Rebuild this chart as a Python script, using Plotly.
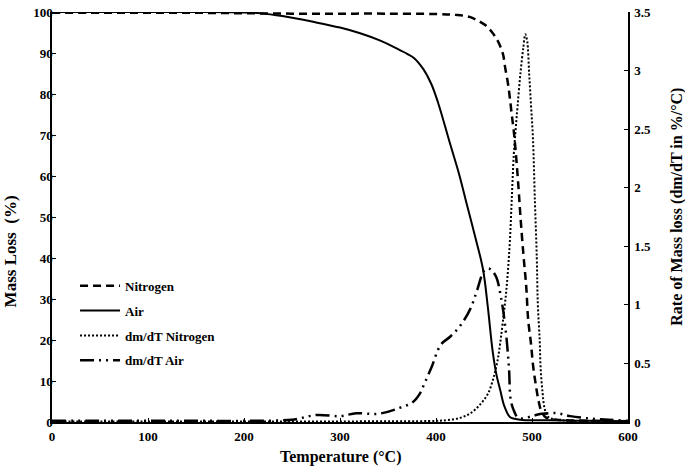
import plotly.graph_objects as go

# ---- Data ----
temp_n2 = [0, 50, 100, 150, 200, 250, 300, 350, 400, 420, 435, 446, 452, 458, 463, 467,
           470, 472, 475, 477, 479, 481, 483, 486, 488, 491, 494, 496, 499, 501, 504,
           507, 510, 515, 530, 560, 600]
mass_n2 = [99.8, 99.8, 99.8, 99.8, 99.7, 99.6, 99.6, 99.6, 99.5, 99.3, 98.8, 97.6, 96.7,
           95.2, 93.5, 91.6, 89.5, 86.5, 82.5, 78.9, 74.8, 71.0, 66.0, 57.0, 50.0, 41.0,
           33.0, 25.0, 19.0, 14.0, 9.0, 5.0, 2.5, 1.0, 0.5, 0.3, 0.2]

temp_air = [0, 50, 100, 150, 200, 217, 240, 272, 300, 321, 342, 360, 370, 377, 387, 395,
            402, 415, 424, 432, 441, 449, 454, 459, 463, 467, 471, 477, 482, 490, 520,
            560, 600]
mass_air = [100, 100, 100, 100, 99.9, 99.7, 99.0, 97.6, 96.2, 94.8, 93.0, 91.0, 89.8,
            88.8, 86.0, 82.5, 78.0, 67.6, 60.5, 53.2, 45.0, 37.2, 28.0, 17.3, 11.5, 7.7,
            4.0, 1.2, 0.8, 0.5, 0.4, 0.3, 0.2]

temp_dn2 = [0, 100, 200, 300, 400, 412, 425, 436, 446, 454, 460, 464, 467, 470, 473, 475,
            477, 479, 481, 483, 485, 488, 491, 493, 495, 497, 499, 501, 503, 505, 506,
            508, 509, 511, 513, 516, 520, 540, 600]
rate_n2 = [0.005, 0.005, 0.005, 0.005, 0.01, 0.017, 0.035, 0.075, 0.15, 0.24, 0.38, 0.52,
           0.68, 0.88, 1.1, 1.3, 1.55, 1.92, 2.28, 2.5, 2.7, 2.98, 3.2, 3.31, 3.25, 2.98,
           2.7, 2.42, 1.89, 1.4, 1.02, 0.7, 0.46, 0.25, 0.12, 0.05, 0.03, 0.01, 0.005]

temp_dair = [0, 50, 100, 150, 200, 250, 276, 300, 317, 340, 362, 376, 383, 388, 395, 405,
             415, 426, 436, 443, 450, 455, 462, 468, 473, 476, 478, 482, 485, 490, 500,
             510, 526, 540, 560, 580, 600]
rate_air = [0.01, 0.01, 0.01, 0.01, 0.01, 0.02, 0.06, 0.05, 0.075, 0.07, 0.12, 0.17, 0.24,
            0.33, 0.46, 0.66, 0.73, 0.83, 0.97, 1.13, 1.29, 1.31, 1.25, 1.05, 0.75, 0.46,
            0.18, 0.08, 0.04, 0.03, 0.05, 0.07, 0.075, 0.05, 0.03, 0.02, 0.01]

series_names = ["Nitrogen", "Air", "dm/dT Nitrogen", "dm/dT Air"]
x_title = "Temperature (°C)"
y_title = "Mass Loss\u00a0\u00a0(%)"
y2_title = "Rate of Mass loss (dm/dT in %/°C)"

FONT = "Liberation Serif, Times New Roman, serif"

fig = go.Figure()
fig.add_trace(go.Scatter(x=temp_n2, y=mass_n2, name=series_names[0], mode="lines",
                         legendgroup="a", line=dict(color="black", width=2.5, dash="8px,5px"),
                         line_shape="spline"))
fig.add_trace(go.Scatter(x=temp_air, y=mass_air, name=series_names[1], mode="lines",
                         legendgroup="b", line=dict(color="black", width=2, dash="solid"),
                         line_shape="spline"))
fig.add_trace(go.Scatter(x=temp_dn2, y=rate_n2, name=series_names[2], mode="lines",
                         legendgroup="c", yaxis="y2",
                         line=dict(color="black", width=2, dash="2px,2px"),
                         line_shape="spline"))
fig.add_trace(go.Scatter(x=temp_dair, y=rate_air, name=series_names[3], mode="lines",
                         legendgroup="d", yaxis="y2",
                         line=dict(color="black", width=2.5, dash="14px,5px,2px,5px,2px,5px"),
                         line_shape="spline"))

tickfont = dict(family=FONT, size=13, color="black", weight="bold")
titlefont = dict(family=FONT, size=16, color="black", weight="bold")

axis_common = dict(showgrid=False, zeroline=False, showline=True, linecolor="black",
                   linewidth=1.5, ticks="inside", ticklen=4, tickcolor="black",
                   tickfont=tickfont, ticklabeloverflow="allow")

fig.update_layout(
    width=685, height=469,
    margin=dict(l=52, r=57, t=5, b=47),
    paper_bgcolor="white", plot_bgcolor="white",
    showlegend=True,
    legend=dict(x=0.04, y=0.369, xanchor="left", yanchor="top",
                bgcolor="rgba(0,0,0,0)", borderwidth=0,
                font=dict(family=FONT, size=13, color="black", weight="bold"),
                itemwidth=40, tracegroupgap=5),
    xaxis=dict(range=[0, 600], dtick=100, ticklabelstandoff=2, **axis_common),
    yaxis=dict(range=[0, 100], dtick=10, ticklabelstandoff=-5, **axis_common),
    yaxis2=dict(range=[0, 3.5], dtick=0.5, overlaying="y", side="right",
                ticklabelstandoff=2, **axis_common),
    annotations=[
        dict(text=x_title, xref="paper", yref="paper", x=0.5, y=-0.0863,
             xanchor="center", yanchor="middle", showarrow=False, font=titlefont),
        dict(text=y_title, xref="paper", yref="paper", x=-0.072, y=0.415,
             xanchor="center", yanchor="middle", textangle=-90, showarrow=False,
             font=dict(family=FONT, size=17, color="black", weight="bold")),
        dict(text=y2_title, xref="paper", yref="paper", x=1.085, y=0.525,
             xanchor="center", yanchor="middle", textangle=-90, showarrow=False,
             font=titlefont),
    ],
)

fig.write_html("out.html", config={"displayModeBar": False},
               post_script="document.body.style.margin='0px';")
